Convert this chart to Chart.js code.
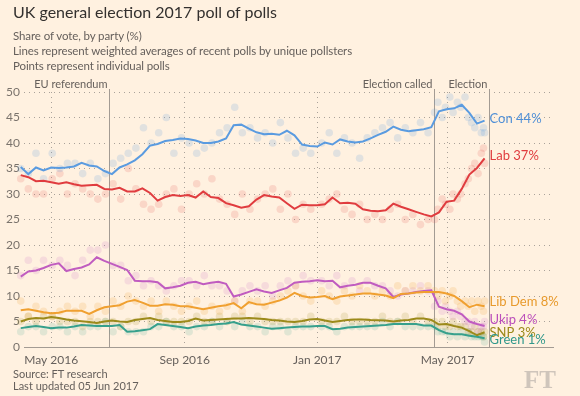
<!DOCTYPE html>
<html>
<head>
<meta charset="utf-8">
<script src="https://cdn.jsdelivr.net/npm/chart.js@4.4.0/dist/chart.umd.min.js"></script>
<style>
  body { margin: 0; background: #fff1e0; }
  #wrap { position: relative; width: 580px; height: 396px; font-family: Lato, sans-serif; overflow: hidden; }
  #chart { position: absolute; left: 0; top: 0; }
  .title { position: absolute; left: 13px; top: 2px; font-size: 16px; color: #33302e; white-space: nowrap; }
  .sub { position: absolute; left: 13px; top: 28px; font-size: 11.5px; letter-spacing: -0.1px; line-height: 15px; color: #66605c; white-space: nowrap; }
  .foot { position: absolute; left: 13px; top: 368px; font-size: 11px; line-height: 11.5px; color: #66605c; white-space: nowrap; }
  .logo { position: absolute; left: 524px; top: 366px; font-family: "Liberation Serif", serif; font-weight: bold; font-size: 25px; color: #cfc5bb; }
</style>
</head>
<body>
<div id="wrap">
  <canvas id="chart" width="580" height="396"></canvas>
  <div class="title">UK general election 2017 poll of polls</div>
  <div class="sub">Share of vote, by party (%)<br>Lines represent weighted averages of recent polls by unique pollsters<br>Points represent individual polls</div>
  <div class="foot">Source: FT research<br>Last updated 05 Jun 2017</div>
  <div class="logo">FT</div>
</div>
<script>
// weekly dates for the averaged lines
const lineDates = [
    '2016-03-20', '2016-03-27', '2016-04-03', '2016-04-10', '2016-04-17', '2016-04-24', '2016-05-01', '2016-05-08',
    '2016-05-15', '2016-05-22', '2016-05-29', '2016-06-05', '2016-06-12', '2016-06-19', '2016-06-26', '2016-07-03',
    '2016-07-10', '2016-07-17', '2016-07-24', '2016-07-31', '2016-08-07', '2016-08-14', '2016-08-21', '2016-08-28',
    '2016-09-04', '2016-09-11', '2016-09-18', '2016-09-25', '2016-10-02', '2016-10-09', '2016-10-16', '2016-10-23',
    '2016-10-30', '2016-11-06', '2016-11-13', '2016-11-20', '2016-11-27', '2016-12-04', '2016-12-11', '2016-12-18',
    '2016-12-25', '2017-01-01', '2017-01-08', '2017-01-15', '2017-01-22', '2017-01-29', '2017-02-05', '2017-02-12',
    '2017-02-19', '2017-02-26', '2017-03-05', '2017-03-12', '2017-03-19', '2017-03-26', '2017-04-02', '2017-04-09',
    '2017-04-16', '2017-04-23', '2017-04-30', '2017-05-07', '2017-05-14', '2017-05-21', '2017-05-28', '2017-06-04'
];

const conLine = [35.6, 35.6, 35.3, 33.9, 35.2, 34.6, 35.2, 35.1, 35.2, 35.4, 36.1, 35.6, 35.4, 34.5, 33.9, 35.2,
    35.8, 36.6, 37.8, 39.5, 39.8, 40.4, 40.6, 40.9, 40.8, 40.5, 40.0, 40.0, 40.3, 40.9, 43.5, 43.6,
    42.8, 42.1, 41.7, 41.8, 41.6, 42.4, 41.5, 39.7, 39.4, 39.3, 40.1, 39.7, 40.7, 40.3, 40.1, 40.3,
    40.9, 41.6, 42.2, 43.2, 42.6, 42.3, 42.5, 42.7, 43.1, 46.2, 46.6, 46.8, 47.5, 45.9, 43.8, 44.4];
const labLine = [34.5, 34.1, 33.7, 33.3, 32.5, 32.6, 32.3, 32.0, 32.3, 31.9, 31.6, 31.7, 31.8, 31.0, 30.9, 31.2,
    30.5, 30.5, 31.1, 30.2, 28.7, 29.4, 29.8, 29.6, 29.8, 29.3, 30.5, 29.4, 29.2, 28.2, 27.8, 27.3,
    27.6, 28.9, 29.8, 29.5, 29.3, 28.2, 27.1, 27.9, 27.8, 27.8, 28.0, 29.3, 28.2, 28.3, 28.1, 27.0,
    26.7, 26.6, 26.8, 28.1, 27.5, 27.0, 26.5, 26.0, 25.6, 26.4, 28.5, 28.7, 31.0, 33.8, 35.1, 37.0];
const ldLine = [7.35, 7.6, 7.2, 7.4, 7.1, 6.8, 6.6, 6.7, 7.1, 7.1, 7.1, 6.5, 7.2, 7.8, 8.0, 8.2,
    8.9, 9.2, 8.7, 8.1, 8.1, 8.4, 8.3, 8.0, 8.0, 7.7, 7.4, 7.7, 8.0, 8.2, 8.6, 7.6,
    8.8, 8.4, 8.3, 8.7, 9.1, 9.7, 10.6, 10.0, 9.7, 9.8, 10.0, 9.4, 9.9, 10.1, 10.3, 10.5,
    10.5, 10.3, 10.1, 9.6, 10.4, 10.5, 10.7, 10.8, 10.8, 10.8, 10.5, 10.0, 9.0, 7.8, 8.3, 8.0];
const ukipLine = [12.0, 12.8, 13.8, 14.8, 15.0, 15.5, 16.1, 16.4, 14.9, 15.3, 15.6, 16.2, 17.6, 16.9, 16.3, 15.7,
    15.1, 13.0, 12.9, 12.9, 12.7, 11.5, 11.7, 12.0, 12.6, 12.8, 12.3, 12.6, 12.8, 12.4, 9.9, 10.3,
    10.8, 11.3, 10.9, 10.6, 11.1, 11.6, 12.6, 12.8, 12.9, 13.1, 12.9, 13.0, 11.7, 12.0, 12.2, 12.6,
    12.6, 12.0, 11.5, 9.8, 10.3, 10.5, 10.8, 11.0, 11.1, 7.9, 7.4, 7.1, 6.4, 5.0, 4.5, 4.1];
const snpLine = [4.9, 4.9, 5.0, 5.5, 5.7, 5.6, 5.9, 5.7, 5.4, 5.2, 5.05, 4.9, 4.7, 5.0, 5.2, 5.0,
    4.9, 5.3, 5.5, 5.7, 5.3, 5.1, 4.9, 4.9, 5.1, 5.6, 5.2, 5.3, 5.4, 5.5, 5.6, 5.6,
    5.7, 5.6, 5.5, 5.3, 5.2, 5.0, 4.9, 5.1, 5.4, 5.5, 5.2, 4.9, 5.1, 5.3, 5.4, 5.4,
    5.3, 5.25, 5.2, 5.0, 5.2, 5.3, 5.6, 5.6, 5.3, 4.4, 4.5, 4.1, 3.8, 3.1, 2.3, 2.9];
const greenLine = [3.8, 3.8, 3.7, 3.9, 4.1, 3.9, 3.7, 3.8, 3.8, 4.0, 4.3, 4.2, 4.1, 4.1, 4.1, 4.3,
    3.0, 3.1, 3.3, 3.5, 4.5, 4.3, 4.1, 3.9, 3.7, 4.0, 4.2, 4.3, 4.5, 4.6, 4.9, 4.4,
    4.2, 4.0, 3.8, 3.6, 3.7, 3.8, 3.9, 4.0, 4.0, 4.1, 4.1, 3.5, 3.6, 3.8, 3.9, 4.0,
    4.1, 4.2, 4.3, 4.5, 4.5, 4.5, 4.5, 4.2, 4.2, 3.3, 2.7, 2.5, 2.5, 2.2, 2.0, 1.7];

// individual polls
const pollDates = [
    '2016-03-20', '2016-03-27', '2016-04-03', '2016-04-10', '2016-04-17', '2016-04-24', '2016-05-02', '2016-05-09',
    '2016-05-16', '2016-05-23', '2016-05-30', '2016-06-06', '2016-06-13', '2016-06-20', '2016-06-27', '2016-07-04',
    '2016-07-11', '2016-07-18', '2016-07-25', '2016-08-01', '2016-08-08', '2016-08-15', '2016-08-22', '2016-08-29',
    '2016-09-05', '2016-09-12', '2016-09-19', '2016-09-26', '2016-10-03', '2016-10-10', '2016-10-17', '2016-10-24',
    '2016-10-31', '2016-11-07', '2016-11-14', '2016-11-21', '2016-11-28', '2016-12-05', '2016-12-12', '2016-12-19',
    '2016-12-26', '2017-01-05', '2017-01-12', '2017-01-19', '2017-01-26', '2017-02-02', '2017-02-09', '2017-02-16',
    '2017-02-23', '2017-03-02', '2017-03-09', '2017-03-16', '2017-03-23', '2017-03-30', '2017-04-06', '2017-04-13',
    '2017-04-19', '2017-04-22', '2017-04-26', '2017-04-29', '2017-05-03', '2017-05-06', '2017-05-10', '2017-05-13',
    '2017-05-17', '2017-05-20', '2017-05-23', '2017-05-26', '2017-05-29', '2017-06-01', '2017-06-03', '2017-06-04'
];
const conPolls = [37, 36, 35, 34, 38, 33, 38, 35, 36, 36, 34, 36, 33, 34, 36, 37,
    38, 39, 43, 40, 42, 45, 38, 41, 40, 38, 39, 40, 42, 43, 47, 42,
    43, 41, 42, 40, 44, 41, 38, 39, 38, 40, 42, 38, 41, 40, 37, 41,
    42, 43, 44, 41, 43, 42, 44, 42, 46, 48, 45, 47, 49, 46, 48, 47,
    49, 45, 44, 43, 45, 42, 43, 42];
const labPolls = [34, 31, 33, 31, 30, 30, 33, 34, 30, 32, 31, 30, 29, 30, 32, 29,
    35, 31, 28, 27, 28, 30, 31, 27, 30, 32, 30, 33, 29, 28, 26, 30,
    27, 29, 30, 31, 27, 30, 25, 28, 27, 28, 29, 30, 27, 26, 28, 25,
    26, 25, 27, 28, 25, 26, 24, 25, 25, 27, 29, 28, 27, 30, 29, 30,
    32, 33, 35, 36, 34, 38, 39, 36];
const ldPolls = [8, 7, 9, 6, 8, 7, 6, 7, 8, 7, 8, 6, 8, 7, 9, 8,
    10, 9, 8, 9, 7, 9, 8, 7, 8, 9, 7, 8, 7, 8, 9, 7,
    9, 9, 8, 9, 10, 11, 12, 10, 9, 11, 10, 9, 11, 10, 12, 11,
    10, 11, 10, 12, 11, 12, 11, 12, 11, 10, 11, 9, 10, 11, 9, 8,
    9, 8, 9, 7, 9, 8, 7, 9];
const ukipPolls = [13, 16, 14, 17, 15, 17, 16, 17, 16, 14, 17, 19, 19, 20, 16, 16,
    13, 14, 12, 13, 12, 11, 12, 13, 13, 12, 14, 12, 12, 11, 9, 11,
    12, 11, 12, 10, 12, 13, 12, 14, 13, 13, 12, 14, 12, 13, 11, 13,
    12, 12, 11, 10, 11, 11, 12, 11, 8, 9, 7, 8, 7, 6, 7, 6,
    5, 5, 4, 5, 3, 4, 4, 5];
const snpPolls = [5, 5, 5, 6, 5, 6, 6, 5, 5, 5, 4, 5, 5, 5, 5, 4,
    5, 5, 6, 5, 6, 5, 5, 5, 5, 6, 5, 5, 6, 5, 6, 6,
    5, 6, 5, 5, 5, 5, 5, 5, 6, 5, 5, 5, 6, 5, 5, 5,
    5, 6, 5, 5, 6, 5, 6, 5, 5, 4, 5, 4, 4, 5, 4, 4,
    4, 3, 3, 4, 3, 3, 2, 3];
const greenPolls = [3, 4, 3, 4, 4, 3, 4, 4, 3, 4, 3, 4, 4, 5, 3, 4,
    3, 3, 3, 4, 4, 5, 4, 4, 3, 4, 4, 5, 4, 5, 4, 5,
    4, 4, 3, 4, 4, 3, 4, 4, 4, 4, 4, 3, 4, 4, 4, 4,
    4, 5, 4, 5, 4, 4, 4, 4, 4, 3, 3, 3, 2, 3, 2, 3,
    2, 3, 2, 2, 2, 2, 2, 1];

const partyNames = ['Con', 'Lab', 'Lib Dem', 'Ukip', 'SNP', 'Green'];
const endLabels = ['Con 44%', 'Lab 37%', 'Lib Dem 8%', 'Ukip 4%', 'SNP 3%', 'Green 1%'];

const xTickDates = ['2016-05-01', '2016-09-01', '2017-01-01', '2017-05-01'];
const xTickLabels = ['May 2016', 'Sep 2016', 'Jan 2017', 'May 2017'];

const eventDates = ['2016-06-23', '2017-04-18', '2017-06-08'];
const eventNames = ['EU referendum', 'Election called', 'Election'];

// styles
const lineColors = ['#5a9be0', '#e03c3f', '#f0a030', '#c05cc0', '#9c8a1a', '#36a08c'];
const dotColors = ['rgba(90,155,224,0.18)', 'rgba(224,60,63,0.15)', 'rgba(240,160,48,0.18)',
    'rgba(192,92,192,0.15)', 'rgba(156,138,26,0.16)', 'rgba(54,160,140,0.15)'];
const labelColors = ['#4f8fd6', '#e03c3f', '#e89a2c', '#bb4fbb', '#9c8a1a', '#2f978a'];
const labelNudge = [0.3, 0.5, 0.85, 1.15, -0.15, -0.2];

function ts(s) {
    return Date.parse(s + 'T00:00:00Z');
}

function toPoints(dates, values) {
    return values.map((v, i) => ({ x: ts(dates[i]), y: v }));
}

const lineSeries = [conLine, labLine, ldLine, ukipLine, snpLine, greenLine];
const pollSeries = [conPolls, labPolls, ldPolls, ukipPolls, snpPolls, greenPolls];

let datasets = [];
lineSeries.forEach((vals, i) => {
    datasets.push({
        type: 'line',
        label: partyNames[i],
        data: toPoints(lineDates, vals),
        borderColor: lineColors[i],
        borderWidth: 2,
        pointRadius: 0,
        tension: 0,
        clip: false,
        order: 0
    });
});
pollSeries.forEach((vals, i) => {
    datasets.push({
        type: 'scatter',
        label: partyNames[i] + ' polls',
        data: toPoints(pollDates, vals),
        backgroundColor: dotColors[i],
        borderWidth: 0,
        pointRadius: 3.8,
        clip: false,
        order: 1
    });
});

const annotations = {
    id: 'annotations',
    beforeDatasetsDraw(chart) {
        const ctx = chart.ctx;
        const x = chart.scales.x;
        const area = chart.chartArea;
        ctx.save();
        ctx.strokeStyle = '#a39b93';
        ctx.lineWidth = 1;
        ctx.font = '11px Lato';
        ctx.fillStyle = '#66605c';
        ctx.textAlign = 'right';
        ctx.textBaseline = 'middle';
        eventDates.forEach((d, i) => {
            const px = Math.round(x.getPixelForValue(ts(d))) + 0.5;
            ctx.beginPath();
            ctx.moveTo(px, area.top - 3);
            ctx.lineTo(px, area.bottom);
            ctx.stroke();
            ctx.fillText(eventNames[i], px - 2, area.top - 8);
        });
        ctx.restore();
    },
    afterDatasetsDraw(chart) {
        const ctx = chart.ctx;
        const x = chart.scales.x;
        const y = chart.scales.y;
        ctx.save();
        ctx.font = '13px Lato';
        ctx.textAlign = 'left';
        ctx.textBaseline = 'middle';
        lineSeries.forEach((vals, i) => {
            const last = vals[vals.length - 1];
            const px = x.getPixelForValue(ts(lineDates[lineDates.length - 1])) + 5;
            ctx.fillStyle = labelColors[i];
            ctx.fillText(endLabels[i], px, y.getPixelForValue(last + labelNudge[i]));
        });
        ctx.restore();
    }
};

new Chart(document.getElementById('chart'), {
    data: { datasets: datasets },
    options: {
        responsive: false,
        animation: false,
        layout: { padding: { top: 92, right: 27, bottom: 27, left: 0 } },
        plugins: {
            legend: { display: false },
            tooltip: { enabled: false }
        },
        scales: {
            x: {
                type: 'linear',
                min: ts('2016-04-06'),
                max: ts('2017-08-06'),
                afterFit(scale) { scale.height = 22; },
                afterBuildTicks(scale) {
                    scale.ticks = xTickDates.map(d => ({ value: ts(d) }));
                },
                ticks: {
                    autoSkip: false,
                    maxRotation: 0,
                    padding: 6,
                    color: '#66605c',
                    font: { family: 'Lato', size: 12 },
                    callback(value) {
                        let i = xTickDates.findIndex(d => ts(d) === value);
                        return i >= 0 ? xTickLabels[i] : '';
                    }
                },
                grid: { color: '#aaa29a', lineWidth: 1, drawTicks: false },
                border: { display: true, color: '#a39b93', width: 1, dash: [1, 4] }
            },
            y: {
                min: 0,
                max: 50,
                afterFit(scale) { scale.width = 24; },
                ticks: {
                    stepSize: 5,
                    padding: 4,
                    color: '#7a736c',
                    font: { family: 'Lato', size: 12 }
                },
                grid: { color: '#aaa29a', lineWidth: 1, drawTicks: false },
                border: { display: false, dash: [1, 4] }
            }
        }
    },
    plugins: [annotations]
});
</script>
</body>
</html>
